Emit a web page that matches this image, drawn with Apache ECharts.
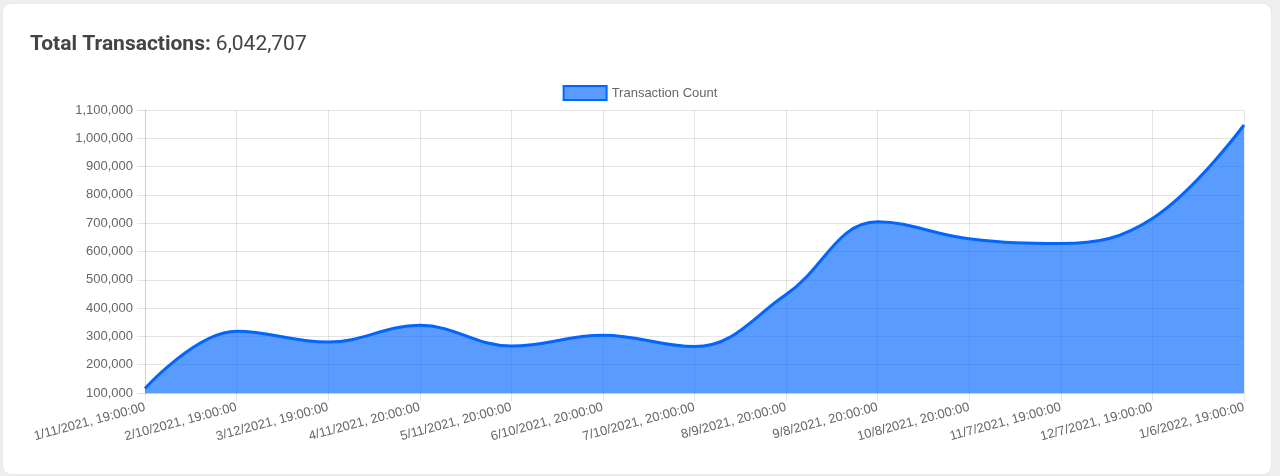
<!DOCTYPE html>
<html>
<head>
<meta charset="utf-8">
<script src="https://cdn.jsdelivr.net/npm/echarts@6/dist/echarts.min.js"></script>
<style>
  html, body { margin: 0; padding: 0; width: 1280px; height: 476px; background: #eeeeee; overflow: hidden; }
  #card { position: absolute; left: 3px; top: 4px; width: 1268px; height: 470px; background: #ffffff; border-radius: 8px; box-shadow: 0 0 2px rgba(0,0,0,0.06); }
  #chart { position: absolute; left: 0; top: 0; width: 1280px; height: 476px; }
</style>
</head>
<body>
<div id="card"></div>
<div id="chart"></div>
<script>
const totalLabel = "Total Transactions:";
const totalValue = "6,042,707";
const seriesName = "Transaction Count";
const categories = [
  "1/11/2021, 19:00:00", "2/10/2021, 19:00:00", "3/12/2021, 19:00:00",
  "4/11/2021, 20:00:00", "5/11/2021, 20:00:00", "6/10/2021, 20:00:00",
  "7/10/2021, 20:00:00", "8/9/2021, 20:00:00", "9/8/2021, 20:00:00",
  "10/8/2021, 20:00:00", "11/7/2021, 19:00:00", "12/7/2021, 19:00:00",
  "1/6/2022, 19:00:00"
];
const values = [116000, 318000, 280000, 339000, 266000, 304000, 264000, 448000, 705000, 645000, 628000, 717000, 1047000];

const chart = echarts.init(document.getElementById('chart'), null, { renderer: 'canvas' });
const fmt = v => v.toLocaleString('en-US');
chart.setOption({
  backgroundColor: 'transparent',
  animation: false,
  title: {
    left: 25, top: 29,
    text: '{b|' + totalLabel + '} {n|' + totalValue + '}',
    textStyle: {
      rich: {
        b: { fontFamily: 'Roboto', fontWeight: 'bold', fontSize: 21, color: '#444444' },
        n: { fontFamily: 'Roboto', fontWeight: 'normal', fontSize: 21, color: '#444444' }
      }
    }
  },
  legend: {
    top: 80, left: 'center',
    itemWidth: 43, itemHeight: 14, itemGap: 8,
    textStyle: { fontFamily: 'Liberation Sans', fontSize: 13, color: '#666666' },
    data: [{ name: seriesName, icon: 'rect',
      itemStyle: { color: 'rgba(0,102,255,0.65)', borderColor: '#0066ff', borderWidth: 2 } }]
  },
  grid: { left: 145, right: 36, top: 110, bottom: 83, containLabel: false },
  xAxis: {
    type: 'category', data: categories, boundaryGap: false,
    axisLine: { show: true, lineStyle: { color: 'rgba(0,0,0,0.1)' } },
    axisTick: { show: true, length: 8, lineStyle: { color: 'rgba(0,0,0,0.1)' } },
    splitLine: { show: true, lineStyle: { color: 'rgba(0,0,0,0.1)' } },
    axisLabel: { rotate: 15, margin: 14, fontFamily: 'Liberation Sans', fontSize: 13, color: '#666666', interval: 0 }
  },
  yAxis: {
    type: 'value', min: 100000, max: 1100000, interval: 100000,
    axisLine: { show: true, lineStyle: { color: 'rgba(0,0,0,0.1)' } },
    axisTick: { show: true, length: 8, lineStyle: { color: 'rgba(0,0,0,0.1)' } },
    splitLine: { show: true, lineStyle: { color: 'rgba(0,0,0,0.1)' } },
    axisLabel: { margin: 12, fontFamily: 'Liberation Sans', fontSize: 13, color: '#666666', formatter: fmt }
  },
  series: [{
    name: seriesName, type: 'line', data: values,
    smooth: 0.4, showSymbol: false, symbol: 'none',
    lineStyle: { color: '#0066ff', width: 3 },
    itemStyle: { color: '#0066ff' },
    areaStyle: { color: '#0066ff', opacity: 0.65, origin: 'start' }
  }]
});
</script>
</body>
</html>
